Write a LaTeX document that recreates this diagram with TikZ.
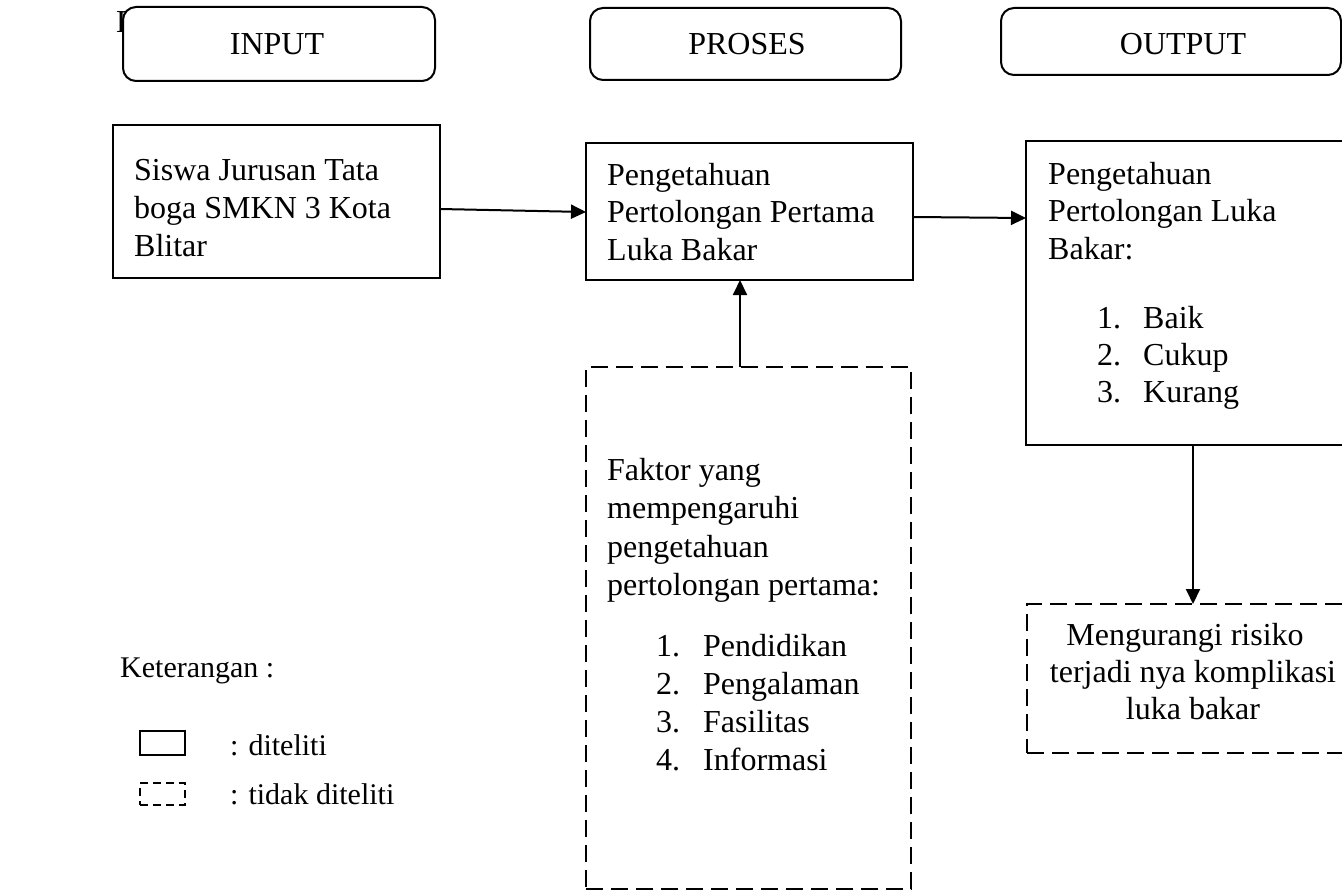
\documentclass[tikz,border=0pt]{standalone}
\usepackage{fontspec}
\setmainfont{Liberation Serif}
\usetikzlibrary{arrows.meta,calc}
\tikzset{
  txt/.style={font=\fontsize{32}{38}\selectfont, inner sep=0pt, anchor=base west},
  ctxt/.style={font=\fontsize{32}{38}\selectfont, inner sep=0pt, anchor=base},
  legtxt/.style={font=\fontsize{30}{36}\selectfont, inner sep=0pt, anchor=base west},
  solidbox/.style={draw, line width=2pt, inner sep=0pt, outer sep=0pt},
  dashbox/.style={draw, line width=2pt, inner sep=0pt, outer sep=0pt, dash pattern=on 17pt off 8pt},
  titlebox/.style={draw, fill=white, line width=2pt, inner sep=0pt, outer sep=0pt, rounded corners=13pt},
  arr/.style={line width=2pt, -{Triangle[length=15pt,width=14pt]}}
}
\begin{document}
\begin{tikzpicture}[x=1pt,y=-1pt]
\useasboundingbox (0,0) rectangle (1342,891);
\clip (0,0) rectangle (1342,891);

% partly hidden letter behind the INPUT box
\node[txt] (hidden) at (116,33) {B};

% title boxes
\node[titlebox, minimum width=312pt, minimum height=74pt] (inp) at (279,44) {};
\node[ctxt] (inpt) at (277,55) {INPUT};
\node[titlebox, minimum width=311pt, minimum height=72pt] (pro) at (745.5,44) {};
\node[ctxt] (prot) at (747,55) {PROSES};
\node[titlebox, minimum width=340pt, minimum height=67pt] (outp) at (1171,41.5) {};
\node[ctxt] (outpt) at (1183,55) {OUTPUT};

% input box
\node[solidbox, minimum width=327pt, minimum height=153pt] (siswa) at (276.5,201.5) {};
\node[txt] (s1) at (134,180) {Siswa Jurusan Tata};
\node[txt] (s2) at (134,218) {boga SMKN 3 Kota};
\node[txt] (s3) at (134,256) {Blitar};

% process box
\node[solidbox, minimum width=327pt, minimum height=137pt] (pp) at (749.5,211.5) {};
\node[txt] (p1) at (607,185) {Pengetahuan};
\node[txt] (p2) at (607,222.5) {Pertolongan Pertama};
\node[txt] (p3) at (607,260) {Luka Bakar};

% output box
\node[solidbox, minimum width=334pt, minimum height=304pt] (hasil) at (1193,293) {};
\node[txt] (h1) at (1048,184) {Pengetahuan};
\node[txt] (h2) at (1048,221.5) {Pertolongan Luka};
\node[txt] (h3) at (1048,259) {Bakar:};
\node[txt] (h4n) at (1097,328) {1.};
\node[txt] (h4) at (1143,328) {Baik};
\node[txt] (h5n) at (1097,365) {2.};
\node[txt] (h5) at (1143,365) {Cukup};
\node[txt] (h6n) at (1097,402) {3.};
\node[txt] (h6) at (1143,402) {Kurang};

% factor box (dashed)
\node[dashbox, minimum width=325pt, minimum height=522pt] (faktor) at (748.5,628) {};
\node[txt] (f1) at (607,480) {Faktor yang};
\node[txt] (f2) at (607,518.5) {mempengaruhi};
\node[txt] (f3) at (607,557) {pengetahuan};
\node[txt] (f4) at (607,595.5) {pertolongan pertama:};
\node[txt] (f5n) at (656,656) {1.};
\node[txt] (f5) at (703,656) {Pendidikan};
\node[txt] (f6n) at (656,694) {2.};
\node[txt] (f6) at (703,694) {Pengalaman};
\node[txt] (f7n) at (656,732) {3.};
\node[txt] (f7) at (703,732) {Fasilitas};
\node[txt] (f8n) at (656,770) {4.};
\node[txt] (f8) at (703,770) {Informasi};

% result box (dashed)
\node[dashbox, minimum width=333pt, minimum height=149pt] (kurang) at (1193.5,678.5) {};
\node[ctxt] (k1) at (1185,645) {Mengurangi risiko};
\node[ctxt] (k2) at (1193,682) {terjadi nya komplikasi};
\node[ctxt] (k3) at (1193,719) {luka bakar};

% connectors
\draw[arr] ($(siswa.east)+(0,7.5)$) -- ($(pp.west)+(0,0.5)$);
\draw[arr] ($(pp.east)+(0,5.5)$) -- ($(pp.east -| hasil.west)+(0,6.5)$);
\draw[arr] ([xshift=-8.5pt]faktor.north) -- ([xshift=-8.5pt]faktor.north |- pp.south);
\draw[arr] (hasil.south) -- (hasil.south |- kurang.north);

% legend
\node[legtxt] (ket) at (120,677) {Keterangan :};
\node[solidbox, minimum width=45pt, minimum height=24pt] (lg1) at (162.5,743) {};
\node[legtxt] (lg1t) at (230,755) {: diteliti};
\node[dashbox, dash pattern=on 8pt off 5pt, minimum width=45pt, minimum height=22pt] (lg2) at (162.5,794) {};
\node[legtxt] (lg2t) at (230,804) {: tidak diteliti};
\end{tikzpicture}
\end{document}
